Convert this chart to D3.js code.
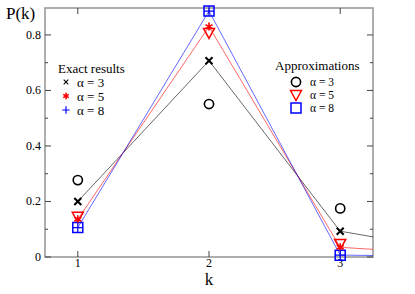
<!DOCTYPE html>
<html>
<head>
<meta charset="utf-8">
<script src="https://cdn.jsdelivr.net/npm/d3@7"></script>
<style>
  body { margin: 0; background: #fff; }
  svg { display: block; font-family: "Liberation Serif", "DejaVu Serif", "Times New Roman", serif; }
</style>
</head>
<body>
<svg id="chart" width="415" height="294"></svg>
<script>
'use strict';
// Data
const ks = [1, 2, 3, 4];
const exact3 = [0.200, 0.707, 0.093, 0.011];
const exact5 = [0.136, 0.830, 0.035, 0.005];
const exact8 = [0.106, 0.886, 0.007, 0.001];
const approxK = [1, 2, 3];
const approx3 = [0.277, 0.551, 0.175];
const approx5 = [0.145, 0.807, 0.047];
const approx8 = [0.106, 0.886, 0.006];
const yTicks = [0, 0.2, 0.4, 0.6, 0.8];
const yMinor = [0.1, 0.3, 0.5, 0.7];
const xTicks = [1, 2, 3];

const svg = d3.select('#chart');
const pLeft = 45, pRight = 373, pTop = 8, pBottom = 257;
const x = d3.scaleLinear().domain([0.75, 3.25]).range([pLeft, pRight]);
const y = d3.scaleLinear().domain([0, 0.897]).range([pBottom, pTop]);

// marker path builders
function timesPath(r) {
  return `M${-r},${-r}L${r},${r}M${-r},${r}L${r},${-r}`;
}
function plusPath(r) {
  return `M${-r},0L${r},0M0,${-r}L0,${r}`;
}
function asteriskPath(r) {
  const a = r * 0.87, b = r * 0.5;
  return `M0,${-r}L0,${r}M${-a},${-b}L${a},${b}M${-a},${b}L${a},${-b}`;
}
function triDownPath(w, h) {
  return `M${-w},${-h * 0.45}L${w},${-h * 0.45}L0,${h * 0.55}Z`;
}
function squarePath(r) {
  return `M${-r},${-r}H${r}V${r}H${-r}Z`;
}

// clip for lines
svg.append('clipPath').attr('id', 'clip')
  .append('rect').attr('x', pLeft).attr('y', pTop).attr('width', pRight - pLeft).attr('height', pBottom - pTop);

// frame
const frameColor = '#9a9a9a';
svg.append('rect')
  .attr('x', pLeft).attr('y', pTop).attr('width', pRight - pLeft).attr('height', pBottom - pTop)
  .attr('fill', 'none').attr('stroke', frameColor).attr('stroke-width', 1.6);

// ticks (inward, mirrored)
const tickG = svg.append('g').attr('stroke', '#444').attr('stroke-width', 1);
yTicks.forEach(v => {
  tickG.append('line').attr('x1', pLeft).attr('x2', pLeft + 6).attr('y1', y(v)).attr('y2', y(v));
  tickG.append('line').attr('x1', pRight).attr('x2', pRight - 6).attr('y1', y(v)).attr('y2', y(v));
});
yMinor.forEach(v => {
  tickG.append('line').attr('x1', pLeft).attr('x2', pLeft + 3).attr('y1', y(v)).attr('y2', y(v));
  tickG.append('line').attr('x1', pRight).attr('x2', pRight - 3).attr('y1', y(v)).attr('y2', y(v));
});
xTicks.forEach(v => {
  tickG.append('line').attr('x1', x(v)).attr('x2', x(v)).attr('y1', pBottom).attr('y2', pBottom - 6);
  tickG.append('line').attr('x1', x(v)).attr('x2', x(v)).attr('y1', pTop).attr('y2', pTop + 6);
});

// tick labels
svg.append('g').selectAll('text').data(yTicks).join('text')
  .attr('x', pLeft - 4).attr('y', d => y(d) + 4)
  .attr('text-anchor', 'end').attr('font-size', 12)
  .text(d => d === 0 ? '0' : d3.format('.1f')(d));
svg.append('g').selectAll('text').data(xTicks).join('text')
  .attr('x', d => x(d)).attr('y', pBottom + 10)
  .attr('text-anchor', 'middle').attr('font-size', 12)
  .text(d => d);

// axis titles
svg.append('text').attr('x', 6).attr('y', 19).attr('font-size', 17).text('P(k)');
svg.append('text').attr('x', x(2)).attr('y', 285).attr('text-anchor', 'middle').attr('font-size', 17).text('k');

// lines through exact results
const line = d3.line().x((d, i) => x(ks[i])).y(d => y(d));
const lines = svg.append('g').attr('clip-path', 'url(#clip)').attr('fill', 'none');
[[exact3, '#000', 0.6], [exact5, '#ff0000', 0.6], [exact8, '#0000ff', 0.6]].forEach(([vals, c, w]) => {
  lines.append('path').attr('d', line(vals)).attr('stroke', c).attr('stroke-width', w);
});

// approximation markers
const marks = svg.append('g').attr('fill', 'none');
marks.selectAll('.c').data(approx3).join('circle')
  .attr('cx', (d, i) => x(approxK[i])).attr('cy', d => y(d)).attr('r', 4.6)
  .attr('stroke', '#000').attr('stroke-width', 1.6);
marks.selectAll('.t').data(approx5).join('path')
  .attr('transform', (d, i) => `translate(${x(approxK[i])},${y(d)})`)
  .attr('d', triDownPath(5.5, 10)).attr('stroke', '#ff0000').attr('stroke-width', 1.5);
marks.selectAll('.s').data(approx8).join('path')
  .attr('transform', (d, i) => `translate(${x(approxK[i])},${y(d)})`)
  .attr('d', squarePath(5)).attr('stroke', '#0000ff').attr('stroke-width', 1.5);

// exact markers (on the visible k range)
const vis = ks.slice(0, 3);
marks.selectAll('.x3').data(vis).join('path')
  .attr('transform', (k, i) => `translate(${x(k)},${y(exact3[i])})`)
  .attr('d', timesPath(3.5)).attr('stroke', '#000').attr('stroke-width', 2);
marks.selectAll('.x5').data(vis).join('path')
  .attr('transform', (k, i) => `translate(${x(k)},${y(exact5[i])})`)
  .attr('d', asteriskPath(4)).attr('stroke', '#ff0000').attr('stroke-width', 1.6);
marks.selectAll('.x8').data(vis).join('path')
  .attr('transform', (k, i) => `translate(${x(k)},${y(exact8[i])})`)
  .attr('d', plusPath(5)).attr('stroke', '#0000ff').attr('stroke-width', 1.2);

// legend: exact results
const leg1 = svg.append('g').attr('font-size', 13);
leg1.append('text').attr('x', 58).attr('y', 73).text('Exact results');
const leg1Rows = [
  [timesPath(2.3), '#000', 1.1, 'α = 3'],
  [asteriskPath(3.2), '#ff0000', 1.6, 'α = 5'],
  [plusPath(3.8), '#0000ff', 1.2, 'α = 8']
];
leg1Rows.forEach(([d, c, w, t], i) => {
  const yy = 82 + i * 14;
  leg1.append('path').attr('transform', `translate(66,${yy})`).attr('d', d)
    .attr('fill', 'none').attr('stroke', c).attr('stroke-width', w);
  leg1.append('text').attr('x', 77).attr('y', yy + 4.5).text(t);
});

// legend: approximations
const leg2 = svg.append('g').attr('font-size', 13);
leg2.append('text').attr('x', 275).attr('y', 70).text('Approximations');
const leg2Rows = [
  ['c', '#000', 'α = 3'],
  ['t', '#ff0000', 'α = 5'],
  ['s', '#0000ff', 'α = 8']
];
leg2Rows.forEach(([kind, c, t], i) => {
  const yy = 82 + i * 13;
  const g = leg2.append('g').attr('transform', `translate(296,${yy})`)
    .attr('fill', 'none').attr('stroke', c);
  if (kind === 'c') g.append('circle').attr('r', 4.6).attr('stroke-width', 1.6);
  if (kind === 't') g.append('path').attr('d', triDownPath(5.5, 10)).attr('stroke-width', 1.5);
  if (kind === 's') g.append('path').attr('d', squarePath(5)).attr('stroke-width', 1.5);
  leg2.append('text').attr('x', 310).attr('y', yy + 4).attr('font-size', 11.5).text(t);
});
</script>
</body>
</html>
